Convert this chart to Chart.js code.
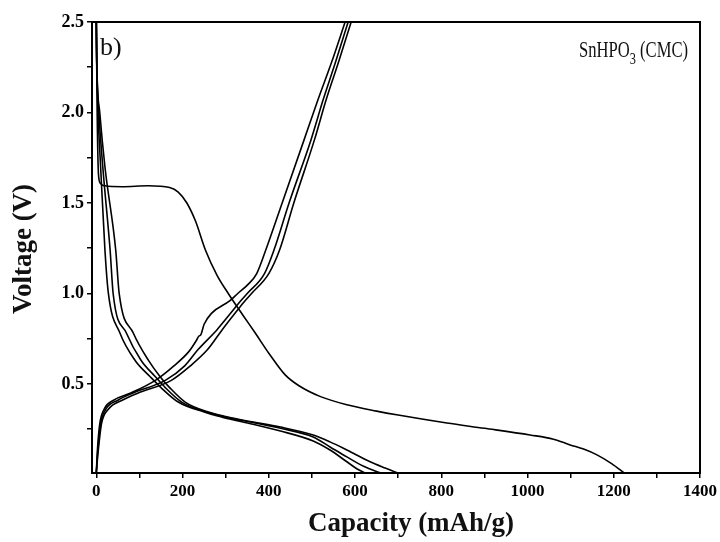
<!DOCTYPE html>
<html>
<head>
<meta charset="utf-8">
<script src="https://cdn.jsdelivr.net/npm/chart.js@4.4.1/dist/chart.umd.min.js"></script>
<style>
  html, body { margin: 0; padding: 0; background: #fff; }
  #wrap { position: relative; width: 720px; height: 542px; }
</style>
</head>
<body>
<div id="wrap"><canvas id="myChart"></canvas></div>
<script>
// galvanostatic curves, capacity (mAh/g) vs voltage (V)
// first discharge
var d1Cap  = [0, 2, 5, 9, 20, 60, 120, 170, 190, 210, 230, 253, 280, 306, 340, 369, 400, 438, 470, 520, 581, 650, 700, 813, 900, 1006, 1060, 1099, 1130, 1161, 1195, 1226];
var d1Volt = [2.5, 2.0, 1.66, 1.61, 1.595, 1.59, 1.595, 1.585, 1.56, 1.5, 1.4, 1.24, 1.1, 1.0, 0.88, 0.78, 0.67, 0.55, 0.49, 0.43, 0.385, 0.35, 0.328, 0.284, 0.255, 0.218, 0.195, 0.163, 0.14, 0.108, 0.06, 0.005];
// second to fourth discharge
var d2Cap  = [0, 1, 8, 20, 45, 53, 86, 121, 148, 170, 206, 260, 300, 350, 427, 503, 542, 581, 635, 670, 702];
var d2Volt = [2.5, 2.28, 2.0, 1.7, 1.24, 1.0, 0.78, 0.63, 0.54, 0.48, 0.4, 0.345, 0.32, 0.295, 0.262, 0.218, 0.18, 0.135, 0.07, 0.035, 0.005];
var d3Cap  = [0, 1, 6, 15, 32, 39, 70, 104, 137, 160, 198, 255, 295, 345, 427, 503, 542, 581, 620, 662];
var d3Volt = [2.5, 2.28, 2.0, 1.7, 1.24, 1.0, 0.78, 0.63, 0.54, 0.48, 0.4, 0.345, 0.32, 0.295, 0.255, 0.207, 0.152, 0.097, 0.045, 0.005];
var d4Cap  = [0, 1, 4, 10, 20, 28, 55, 90, 125, 150, 190, 250, 290, 340, 427, 503, 542, 581, 605, 625];
var d4Volt = [2.5, 2.28, 2.0, 1.7, 1.24, 1.0, 0.78, 0.63, 0.54, 0.48, 0.4, 0.345, 0.318, 0.29, 0.24, 0.185, 0.135, 0.07, 0.03, 0.005];
// charges
var c1Cap  = [0, 3, 8, 18, 40, 80, 137, 180, 215, 232, 238, 242, 250, 267, 310, 328, 352, 372, 393, 431, 482, 514, 546, 577];
var c1Volt = [0.01, 0.15, 0.28, 0.36, 0.41, 0.45, 0.52, 0.6, 0.68, 0.74, 0.765, 0.77, 0.83, 0.89, 0.96, 1.0, 1.05, 1.11, 1.24, 1.5, 1.85, 2.07, 2.28, 2.5];
var c2Cap  = [0, 3, 10, 22, 50, 85, 160, 205, 236, 280, 318, 335, 350, 390, 412, 447, 498, 526, 555, 584];
var c2Volt = [0.01, 0.12, 0.28, 0.36, 0.41, 0.45, 0.52, 0.6, 0.69, 0.8, 0.91, 0.96, 1.0, 1.11, 1.24, 1.5, 1.85, 2.07, 2.28, 2.5];
var c3Cap  = [0, 4, 12, 28, 60, 97, 174, 218, 258, 292, 328, 345, 360, 400, 425, 458, 506, 533, 562, 591];
var c3Volt = [0.01, 0.12, 0.28, 0.36, 0.41, 0.45, 0.52, 0.6, 0.69, 0.8, 0.91, 0.96, 1.0, 1.11, 1.24, 1.5, 1.85, 2.07, 2.28, 2.5];

var xTicks = [0, 100, 200, 300, 400, 500, 600, 700, 800, 900, 1000, 1100, 1200, 1300, 1400];
var yTicks = [0.25, 0.5, 0.75, 1.0, 1.25, 1.5, 1.75, 2.0, 2.25, 2.5];

var serif = '"Liberation Serif", "Times New Roman", serif';

function pts(cap, volt) {
    return cap.map(function (c, i) { return {x: c, y: volt[i]}; });
}
function curve(cap, volt) {
    return {
        data: pts(cap, volt),
        borderColor: '#000',
        borderWidth: 1.6,
        pointRadius: 0,
        fill: false,
        cubicInterpolationMode: 'monotone'
    };
}

// frame and text labels
var decor = {
    id: 'decor',
    afterDraw: function (chart) {
        var c = chart.ctx, a = chart.chartArea;
        c.save();
        c.strokeStyle = '#000';
        c.lineWidth = 2;
        c.strokeRect(a.left, a.top, a.right - a.left, a.bottom - a.top);
        c.fillStyle = '#111';
        c.textBaseline = 'alphabetic';
        c.font = '26px ' + serif;
        c.fillText('b)', 100, 55);
        // SnHPO3 (CMC) with subscript, squeezed into the same width as the original
        c.font = '23px ' + serif;
        var w1 = c.measureText('SnHPO').width, w3 = c.measureText(' (CMC)').width;
        c.font = '17px ' + serif;
        var w2 = c.measureText('3').width;
        var k = 109 / (w1 + w2 + w3);
        c.save();
        c.translate(579, 57);
        c.scale(k, 1);
        c.font = '23px ' + serif;
        c.fillText('SnHPO', 0, 0);
        c.fillText(' (CMC)', w1 + w2, 0);
        c.font = '17px ' + serif;
        c.fillText('3', w1, 7);
        c.restore();
        // axis titles
        c.font = 'bold 27px ' + serif;
        c.textAlign = 'center';
        c.fillText('Capacity (mAh/g)', 411, 531);
        c.save();
        c.translate(31, 249);
        c.rotate(-Math.PI / 2);
        c.fillText('Voltage (V)', 0, 0);
        c.restore();
        c.restore();
    }
};

var ctx = document.getElementById('myChart').getContext('2d');
var chart = new Chart(ctx, {
    type: 'line',
    data: {
        datasets: [
            curve(d1Cap, d1Volt), curve(d2Cap, d2Volt), curve(d3Cap, d3Volt), curve(d4Cap, d4Volt),
            curve(c1Cap, c1Volt), curve(c2Cap, c2Volt), curve(c3Cap, c3Volt)
        ]
    },
    options: {
        responsive: true,
        maintainAspectRatio: false,
        animation: false,
        layout: {padding: {top: 22, right: 20, left: 0, bottom: 0}},
        plugins: {legend: {display: false}, tooltip: {enabled: false}},
        scales: {
            x: {
                type: 'linear',
                min: -10,
                max: 1400,
                afterFit: function (s) { s.height = 69; },
                afterBuildTicks: function (s) { s.ticks = xTicks.map(function (v) { return {value: v}; }); },
                grid: {drawOnChartArea: false, drawTicks: true, tickLength: 5, color: '#000', lineWidth: 1.5},
                border: {display: true, color: '#000', width: 2},
                ticks: {
                    color: '#000',
                    padding: 3,
                    maxRotation: 0,
                    autoSkip: false,
                    font: {family: serif, size: 17, weight: 'bold'},
                    callback: function (v) { return v % 200 === 0 ? String(v) : ''; }
                }
            },
            y: {
                type: 'linear',
                min: 0.008,
                max: 2.5,
                afterFit: function (s) { s.width = 92; },
                afterBuildTicks: function (s) { s.ticks = yTicks.map(function (v) { return {value: v}; }); },
                grid: {drawOnChartArea: false, drawTicks: true, tickLength: 5, color: '#000', lineWidth: 1.5},
                border: {display: true, color: '#000', width: 2},
                ticks: {
                    color: '#000',
                    padding: 3,
                    autoSkip: false,
                    font: {family: serif, size: 18, weight: 'bold'},
                    callback: function (v) { return Math.round(v * 100) % 50 === 0 ? v.toFixed(1) : ''; }
                }
            }
        }
    },
    plugins: [decor]
});
</script>
</body>
</html>
